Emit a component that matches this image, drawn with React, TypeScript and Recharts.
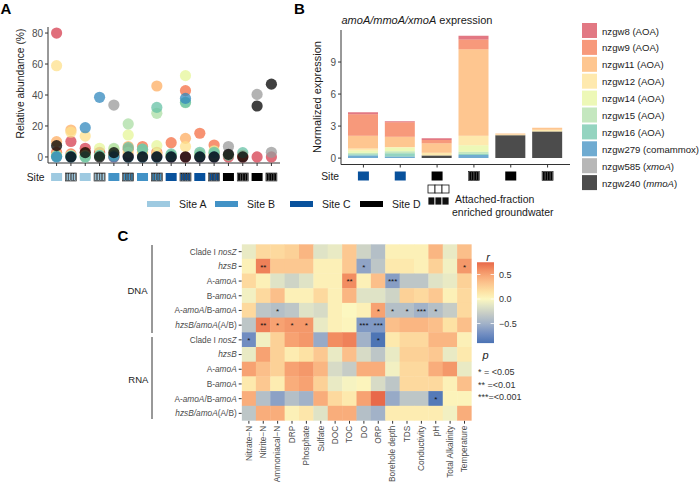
import React from 'react';
import { ScatterChart, Scatter, XAxis, YAxis, BarChart, Bar } from 'recharts';

const FONT = "'Liberation Sans', Arial, Helvetica, sans-serif";
const AXIS = '#333333';
const TICK_TXT = '#4d4d4d';
const TXT = '#1a1a1a';

// ---------- taxa (shared by A and B) ----------
const taxa = ['nzgw8', 'nzgw9', 'nzgw11', 'nzgw12', 'nzgw14', 'nzgw15', 'nzgw16', 'nzgw279', 'nzgw585', 'nzgw240'];
const taxaGroup = ['AOA', 'AOA', 'AOA', 'AOA', 'AOA', 'AOA', 'AOA', 'comammox', 'xmoA', 'mmoA'];
const taxaGroupItalic = [false, false, false, false, false, false, false, false, true, true];
const taxaColors = ['#D53E4F', '#F46D43', '#FDAE61', '#FEE08B', '#E6F598', '#ABDDA4', '#66C2A5', '#3288BD', '#999999', '#000000'];

// ---------- sites ----------
const siteNames = ['A', 'B', 'C', 'D'];
const siteColors: Record<string, string> = { A: '#9ECAE1', B: '#4292C6', C: '#08519C', D: '#000000' };

// ---------- Panel A: relative abundance ----------
const sampleIds = [1, 2, 3, 4, 5, 6, 7, 8, 9, 10, 11, 12, 13, 14, 15, 16];
const sampleSite = ['A', 'A', 'A', 'A', 'B', 'B', 'B', 'B', 'C', 'C', 'C', 'C', 'D', 'D', 'D', 'D'];
const sampleAttached = [0, 1, 0, 1, 0, 1, 0, 1, 0, 1, 0, 1, 0, 1, 0, 1];
const abundanceTicks = [0, 20, 40, 60, 80];

const abund_nzgw8 = [80, 10, 5.6, 3, 0, 1, 1, 1, 0, 0, 0, 0, 0, 0, 0, 0];
const abund_nzgw9 = [3, 2, 3, 2, 1, 5, 6.7, 3, 9.2, 42.8, 15.3, 7.7, 1, 1, null, null];
const abund_nzgw11 = [9.9, 17.4, 1, 1, 2, 6.7, 3, 45.8, 1, 12, 1, 2, null, null, null, null];
const abund_nzgw12 = [58.9, 16, 13.5, 1, 1, 3, 2, 2, 1, 6.7, 2, 1, null, null, null, null];
const abund_nzgw14 = [1, 1, 1, 5.6, 5, 14.2, 1, 7.3, 1, 52.5, 1, 4, null, null, null, null];
const abund_nzgw15 = [0.5, 0.5, 0, 1, 5.5, 21.3, 5, 28.2, 1, 35, 1, 2.4, null, null, null, null];
const abund_nzgw16 = [0.5, 0.5, 0, 1, 1, 6, 5, 32, 2, 35.3, 3, 3, 1, 2.8, null, null];
const abund_nzgw279 = [0, 0, 18.9, 38.5, 0, 0, 0, 0, 0, 37.8, 0, 0, null, null, null, null];
const abund_nzgw585 = [null, null, null, null, 33.5, null, null, null, null, null, null, null, 6.7, null, 40.4, 3];
const abund_nzgw240 = [7.3, 0, 2.8, 0, 2.8, 0, 0, 0, 0, 0, 0, 0, 1.7, 0, 32.9, 47];
const abundance = [abund_nzgw8, abund_nzgw9, abund_nzgw11, abund_nzgw12, abund_nzgw14, abund_nzgw15, abund_nzgw16, abund_nzgw279, abund_nzgw585, abund_nzgw240];

// ---------- Panel B: expression ----------
const exprSamples = ['s1', 's2', 's3', 's4', 's5', 's6'];
const exprSite = ['C', 'C', 'D', 'D', 'D', 'D'];
const exprAttached = [0, 0, 0, 1, 0, 1];
const exprTicks = [0, 3, 6, 9];

const expr_nzgw8 = [0.2, 0.1, 0.15, 0.35, 0, 0];
const expr_nzgw9 = [2.0, 1.35, 0.3, 0.9, 0, 0];
const expr_nzgw11 = [1.2, 0.95, 0.9, 8.1, 0.1, 0.2];
const expr_nzgw12 = [0.2, 0.05, 0.25, 0.9, 0.05, 0.15];
const expr_nzgw14 = [0.2, 0.35, 0, 0.6, 0, 0];
const expr_nzgw15 = [0.15, 0.2, 0, 0.2, 0, 0];
const expr_nzgw16 = [0.1, 0.3, 0, 0.1, 0, 0];
const expr_nzgw279 = [0.25, 0.15, 0, 0.3, 0, 0];
const expr_nzgw585 = [0, 0, 0, 0, 0, 0];
const expr_nzgw240 = [0, 0, 0.25, 0, 2.15, 2.5];
const expression = [expr_nzgw8, expr_nzgw9, expr_nzgw11, expr_nzgw12, expr_nzgw14, expr_nzgw15, expr_nzgw16, expr_nzgw279, expr_nzgw585, expr_nzgw240];

// ---------- Panel C: correlation heatmap ----------
const envVars = ['Nitrate−N', 'Nitrite−N', 'Ammoniacal−N', 'DRP', 'Phosphate', 'Sulfate', 'DOC', 'TOC', 'DO', 'ORP', 'Borehole depth', 'TDS', 'Conductivity', 'pH', 'Total Alkalinity', 'Temperature'];
// label parts: [text, italic]
const geneLabels: [string, boolean][][] = [
  [['Clade I ', false], ['nosZ', true]],
  [['hzsB', true]],
  [['A-', false], ['amoA', true]],
  [['B-', false], ['amoA', true]],
  [['A-', false], ['amoA', true], ['/B-', false], ['amoA', true]],
  [['hzsB/amoA', true], ['(A/B)', false]],
];
const rowGroups = ['DNA', 'RNA'];

const r_dna_nosZ = [-0.1, 0.2, 0.2, 0.25, 0.4, -0.15, -0.1, 0.3, -0.25, -0.4, 0.05, 0.05, 0.05, 0.4, -0.1, 0.35];
const r_dna_hzsB = [0.05, 0.65, 0.3, 0.3, 0.3, 0.05, 0.05, 0.3, -0.58, -0.35, 0.1, 0.1, 0.05, 0.25, -0.05, 0.55];
const r_dna_Aamo = [0.2, 0.05, -0.15, -0.25, -0.15, 0.05, 0.05, 0.6, 0.05, 0.35, -0.62, -0.35, -0.35, -0.15, -0.1, 0.25];
const r_dna_Bamo = [-0.05, 0.2, 0.35, 0.05, 0.05, 0.2, 0.05, 0.4, -0.15, -0.15, -0.25, 0.25, 0.2, 0.3, 0.05, 0.2];
const r_dna_AB = [0.2, -0.35, -0.4, -0.35, -0.15, -0.2, 0.05, 0.0, 0.05, 0.5, -0.4, -0.4, -0.5, -0.4, -0.3, 0.2];
const r_dna_ratio = [-0.35, 0.65, 0.5, 0.55, 0.55, -0.1, 0.05, 0.02, -0.65, -0.65, 0.35, 0.4, 0.4, 0.35, 0.15, 0.35];
const r_rna_nosZ = [-0.72, -0.05, 0.25, 0.5, 0.55, -0.55, 0.6, 0.65, -0.5, -0.88, 0.1, 0.2, 0.2, 0.4, 0.4, 0.05];
const r_rna_hzsB = [-0.1, 0.5, 0.25, 0.08, 0.15, 0.3, -0.1, 0.35, -0.2, -0.35, -0.1, 0.25, 0.25, 0.3, -0.1, 0.1];
const r_rna_Aamo = [0.5, 0.35, 0.25, 0.5, 0.55, 0.4, -0.2, -0.3, 0.45, 0.45, -0.05, 0.2, 0.2, 0.45, 0.55, -0.1];
const r_rna_Bamo = [0.1, 0.3, 0.08, 0.45, 0.5, 0.25, -0.1, -0.03, 0.02, -0.2, -0.35, 0.2, 0.2, 0.2, 0.05, 0.35];
const r_rna_AB = [0.45, -0.4, -0.6, -0.4, -0.5, 0.45, 0.2, 0.1, 0.5, 0.75, -0.55, -0.35, -0.35, -0.85, 0.03, 0.03];
const r_rna_ratio = [-0.35, 0.45, 0.45, 0.05, 0.12, -0.15, 0.45, 0.45, -0.4, -0.5, 0.08, 0.08, 0.08, 0.08, -0.05, 0.45];
const rMatrix = [r_dna_nosZ, r_dna_hzsB, r_dna_Aamo, r_dna_Bamo, r_dna_AB, r_dna_ratio, r_rna_nosZ, r_rna_hzsB, r_rna_Aamo, r_rna_Bamo, r_rna_AB, r_rna_ratio];

// significance marks: [row, col, label]
const sigMarks: [number, number, string][] = [
  [1, 1, '**'], [1, 8, '*'], [1, 15, '*'],
  [2, 7, '**'], [2, 10, '***'],
  [4, 2, '*'], [4, 9, '*'], [4, 10, '*'], [4, 11, '*'], [4, 12, '***'], [4, 13, '*'],
  [5, 1, '**'], [5, 2, '*'], [5, 3, '*'], [5, 4, '*'], [5, 8, '***'], [5, 9, '***'],
  [6, 0, '*'], [6, 9, '*'],
  [10, 13, '*'],
];
const colorbarTicks = [0.5, 0, -0.5];
const colorbarLabels = ['0.5', '0.0', '−0.5'];
const rLimits = [-0.9, 0.75];
const pLegend = ['* = <0.05', '** =<0.01', '***=<0.001'];

// colour scale stops [r, colour]
const rStops: [number, string][] = [
  [-0.9, '#4A72B4'], [-0.7, '#7590C2'], [-0.5, '#A2B2C8'], [-0.3, '#C6CCC6'], [-0.15, '#DFE3C6'],
  [0, '#FCF7C0'], [0.15, '#FDE2A4'], [0.3, '#FCC891'], [0.45, '#F9AD7B'], [0.6, '#F28D61'], [0.75, '#E8694A'],
];

function hexToRgb(h: string) {
  const n = parseInt(h.slice(1), 16);
  return [(n >> 16) & 255, (n >> 8) & 255, n & 255];
}
function rColor(r: number) {
  if (r <= rStops[0][0]) return rStops[0][1];
  for (let i = 1; i < rStops.length; i++) {
    if (r <= rStops[i][0]) {
      const [r0, c0] = rStops[i - 1];
      const [r1, c1] = rStops[i];
      const t = (r - r0) / (r1 - r0);
      const a = hexToRgb(c0), b = hexToRgb(c1);
      const m = a.map((v, k) => Math.round(v + (b[k] - v) * t));
      return `rgb(${m[0]},${m[1]},${m[2]})`;
    }
  }
  return rStops[rStops.length - 1][1];
}

// ---------- derived data ----------
const scatterSeries = taxa.map((name, s) => ({
  name,
  color: taxaColors[s],
  data: sampleIds
    .map((id, i) => (abundance[s][i] == null ? null : { x: id, y: abundance[s][i] as number }))
    .filter(Boolean) as { x: number; y: number }[],
}));

const barData = exprSamples.map((id, i) => {
  const row: Record<string, any> = { id };
  taxa.forEach((t, s) => { row[t] = expression[s][i]; });
  return row;
});

const heatCells: { x: number; y: number; r: number; sig: string }[] = [];
rMatrix.forEach((row, ri) => row.forEach((r, ci) => {
  const m = sigMarks.find((s) => s[0] === ri && s[1] === ci);
  heatCells.push({ x: ci + 0.5, y: ri + 0.5, r, sig: m ? m[2] : '' });
}));
const colTicks = envVars.map((_, i) => i + 0.5);
const rowTicks = rMatrix.map((_, i) => i + 0.5);

// ---------- site box ----------
function SiteBox({ cx, top, w, h, site, attached }: { cx: number; top: number; w: number; h: number; site: string; attached: number }) {
  const color = siteColors[site];
  const x0 = cx - w / 2;
  if (!attached) return <rect x={x0} y={top} width={w} height={h} fill={color} />;
  const n = 4;
  const bw = (w - 1) / n - 0.6;
  return (
    <g>
      <rect x={x0} y={top} width={w} height={h} fill="#ffffff" stroke="#111" strokeWidth={0.6} />
      {Array.from({ length: n }).map((_, i) => (
        <rect key={i} x={x0 + 0.8 + i * ((w - 1) / n)} y={top + 0.5} width={bw} height={h - 1} fill={color} stroke="#111" strokeWidth={0.5} />
      ))}
    </g>
  );
}

// ---------- Panel A ----------
const PLOT_W = 300;
function PanelA() {
  return (
    <div style={{ position: 'absolute', left: 0, top: 0 }}>
      <ScatterChart width={PLOT_W} height={190} margin={{ top: 27, right: 20, bottom: 2, left: 18 }}>
        <XAxis
          type="number" dataKey="x" domain={[0.4, 16.6]} ticks={sampleIds} interval={0} allowDataOverflow
          height={25} tickSize={3} axisLine={{ stroke: AXIS }} tickLine={{ stroke: AXIS }}
          tick={(p: any) => {
            const i = Math.round(p.payload.value) - 1;
            return <SiteBox cx={p.x} top={p.y + 5} w={11} h={8} site={sampleSite[i]} attached={sampleAttached[i]} />;
          }}
        />
        <YAxis
          type="number" dataKey="y" domain={[-3.9, 83.9]} ticks={abundanceTicks} interval={0} allowDataOverflow
          width={30} tickSize={3} axisLine={{ stroke: AXIS }} tickLine={{ stroke: AXIS }}
          tick={{ fill: TICK_TXT, fontSize: 10, fontFamily: FONT }}
        />
        {scatterSeries.map((s) => (
          <Scatter
            key={s.name} name={s.name} data={s.data} isAnimationActive={false}
            shape={(p: any) => (p.cx == null ? <g /> : <circle cx={p.cx} cy={p.cy} r={5.6} fill={s.color} fillOpacity={0.75} />)}
          />
        ))}
      </ScatterChart>
    </div>
  );
}

// ---------- Panel B ----------
function PanelB() {
  const stackOrder = [...taxa].reverse();
  return (
    <div style={{ position: 'absolute', left: 290, top: 0 }}>
      <BarChart width={300} height={200} data={barData} margin={{ top: 30, right: 20, bottom: 10.5, left: 21 }} barSize={30}>
        <XAxis
          dataKey="id" type="category" padding={{ left: 4, right: 4 }} interval={0}
          height={25} tickSize={3} axisLine={{ stroke: AXIS }} tickLine={{ stroke: AXIS }}
          tick={(p: any) => {
            const i = exprSamples.indexOf(p.payload.value);
            return <SiteBox cx={p.x} top={p.y + 2} w={11} h={9} site={exprSite[i]} attached={exprAttached[i]} />;
          }}
        />
        <YAxis
          type="number" domain={[-0.6, 12]} ticks={exprTicks} interval={0} allowDataOverflow
          width={30} tickSize={3} axisLine={{ stroke: AXIS }} tickLine={{ stroke: AXIS }}
          tick={{ fill: TICK_TXT, fontSize: 10, fontFamily: FONT }}
        />
        {stackOrder.map((t) => (
          <Bar key={t} dataKey={t} stackId="expr" fill={taxaColors[taxa.indexOf(t)]} fillOpacity={0.7} isAnimationActive={false} />
        ))}
      </BarChart>
    </div>
  );
}

// ---------- Panel C ----------
const C_W = 700, C_H = 252;
const C_M = { top: 14.3, right: 228.3, bottom: 1.3, left: 141.7 };
const C_YAXIS_W = 100, C_XAXIS_H = 60;
const CELL_W = (C_W - C_M.left - C_M.right - C_YAXIS_W) / envVars.length;
const CELL_H = (C_H - C_M.top - C_M.bottom - C_XAXIS_H) / rMatrix.length;

function PanelC() {
  return (
    <div style={{ position: 'absolute', left: 0, top: 230 }}>
      <ScatterChart width={C_W} height={C_H} margin={C_M}>
        <XAxis
          type="number" dataKey="x" domain={[0, envVars.length]} ticks={colTicks} interval={0} allowDataOverflow
          height={C_XAXIS_H} tickSize={3} axisLine={false} tickLine={{ stroke: AXIS }}
          tick={(p: any) => {
            const i = Math.round(p.payload.value - 0.5);
            return (
              <text x={p.x} y={p.y} transform={`rotate(-90 ${p.x} ${p.y})`} textAnchor="end" dy="0.33em"
                fontSize={8.3} fill={TICK_TXT} fontFamily={FONT}>{envVars[i]}</text>
            );
          }}
        />
        <YAxis
          type="number" dataKey="y" domain={[0, rMatrix.length]} reversed ticks={rowTicks} interval={0} allowDataOverflow
          width={C_YAXIS_W} tickSize={3} axisLine={false} tickLine={{ stroke: AXIS }}
          tick={(p: any) => {
            const i = Math.round(p.payload.value - 0.5);
            const parts = geneLabels[i % geneLabels.length];
            return (
              <text x={p.x} y={p.y} dy="0.35em" textAnchor="end" fontSize={8.3} fill={TICK_TXT} fontFamily={FONT}>
                {parts.map((pt, k) => (
                  <tspan key={k} fontStyle={pt[1] ? 'italic' : 'normal'}>{pt[0]}</tspan>
                ))}
              </text>
            );
          }}
        />
        <Scatter
          data={heatCells} isAnimationActive={false}
          shape={(p: any) => (
            <g>
              <rect x={p.cx - CELL_W / 2 - 0.2} y={p.cy - CELL_H / 2 - 0.2} width={CELL_W + 0.4} height={CELL_H + 0.4} fill={rColor(p.payload.r)} />
              {p.payload.sig ? (
                <text x={p.cx} y={p.cy} dy="0.4em" textAnchor="middle" fontSize={8} fill="#111" fontFamily={FONT}>{p.payload.sig}</text>
              ) : null}
            </g>
          )}
        />
      </ScatterChart>
    </div>
  );
}

// ---------- Overlay: titles and legends ----------
function Overlay() {
  const legendSiteX = [147, 215, 290, 360];
  const legendTop = 23, legendStep = 16.9;
  const cbTop = 299 - rLimits[1] * 49, cbBottom = 299 - rLimits[0] * 49;
  const rToY = (r: number) => 299 - r * 49;
  return (
    <svg width={700} height={482} style={{ position: 'absolute', left: 0, top: 0, pointerEvents: 'none' }} fontFamily={FONT}>
      <defs>
        <linearGradient id="rgrad" x1="0" y1="0" x2="0" y2="1">
          {[...rStops].reverse().map(([r, c], i) => (
            <stop key={i} offset={(rLimits[1] - r) / (rLimits[1] - rLimits[0])} stopColor={c} />
          ))}
        </linearGradient>
      </defs>
      {/* panel letters */}
      <text x={0.5} y={13.5} fontSize={15} fontWeight="bold" fill="#000">A</text>
      <text x={294} y={13.5} fontSize={15} fontWeight="bold" fill="#000">B</text>
      <text x={117.5} y={240.5} fontSize={15} fontWeight="bold" fill="#000">C</text>

      {/* Panel A texts */}
      <text x={20} y={83.5} transform="rotate(-90 20 83.5)" textAnchor="middle" dominantBaseline="central" fontSize={10.3} fill={TXT}>Relative abundance (%)</text>
      <text x={44.5} y={177} textAnchor="end" dominantBaseline="central" fontSize={10.3} fill={TXT}>Site</text>
      {siteNames.map((s, i) => (
        <g key={s}>
          <rect x={legendSiteX[i]} y={201} width={23} height={6} fill={siteColors[s]} />
          <text x={legendSiteX[i] + 32} y={204} dominantBaseline="central" fontSize={10.5} fill={TXT}>{`Site ${s}`}</text>
        </g>
      ))}
      {[0, 1, 2].map((i) => (
        <g key={i}>
          <rect x={428 + i * 7} y={185} width={7} height={8} fill="#fff" stroke="#111" strokeWidth={0.8} />
          <rect x={428 + i * 7} y={197} width={7} height={8} fill="#111" stroke="#fff" strokeWidth={0.8} />
        </g>
      ))}
      <text x={455} y={199} dominantBaseline="central" fontSize={10.5} fill={TXT}>Attached-fraction</text>
      <text x={452} y={211.7} dominantBaseline="central" fontSize={10.5} fill={TXT}>enriched groundwater</text>

      {/* Panel B texts */}
      <text x={417} y={20} textAnchor="middle" dominantBaseline="central" fontSize={11} fill={TXT}>
        <tspan fontStyle="italic">amoA/mmoA/xmoA</tspan>
        <tspan> expression</tspan>
      </text>
      <text x={316.7} y={97} transform="rotate(-90 316.7 97)" textAnchor="middle" dominantBaseline="central" fontSize={11} fill={TXT}>Normalized expression</text>
      <text x={339} y={176} textAnchor="end" dominantBaseline="central" fontSize={10.3} fill={TXT}>Site</text>
      {taxa.map((t, i) => (
        <g key={t}>
          <rect x={582} y={legendTop + i * legendStep} width={15} height={15} fill={taxaColors[i]} fillOpacity={0.7} />
          <text x={602} y={legendTop + 7.5 + i * legendStep} dominantBaseline="central" fontSize={9.6} fill={TXT}>
            <tspan>{`${t} (`}</tspan>
            <tspan fontStyle={taxaGroupItalic[i] ? 'italic' : 'normal'}>{taxaGroup[i]}</tspan>
            <tspan>)</tspan>
          </text>
        </g>
      ))}

      {/* Panel C group labels */}
      <text x={137.5} y={290.7} textAnchor="middle" dominantBaseline="central" fontSize={9.5} fill={TXT}>{rowGroups[0]}</text>
      <text x={138.3} y={379} textAnchor="middle" dominantBaseline="central" fontSize={9.5} fill={TXT}>{rowGroups[1]}</text>
      <line x1={152} x2={152} y1={245} y2={333} stroke="#333" strokeWidth={1} />
      <line x1={152} x2={152} y1={337} y2={419} stroke="#333" strokeWidth={1} />

      {/* colour bar */}
      <text x={488} y={257} textAnchor="middle" dominantBaseline="central" fontSize={11} fontStyle="italic" fill={TXT}>r</text>
      <rect x={477} y={cbTop} width={17} height={cbBottom - cbTop} fill="url(#rgrad)" />
      {colorbarTicks.map((r, i) => (
        <g key={i}>
          <line x1={477} x2={480.4} y1={rToY(r)} y2={rToY(r)} stroke="#fff" strokeWidth={0.8} />
          <line x1={490.6} x2={494} y1={rToY(r)} y2={rToY(r)} stroke="#fff" strokeWidth={0.8} />
          <text x={499} y={rToY(r)} dominantBaseline="central" fontSize={9} fill="#333">{colorbarLabels[i]}</text>
        </g>
      ))}
      <text x={485.5} y={355} textAnchor="middle" dominantBaseline="central" fontSize={11} fontStyle="italic" fill={TXT}>p</text>
      {pLegend.map((s, i) => (
        <text key={i} x={478} y={372.3 + i * 12.5} dominantBaseline="central" fontSize={9} fill="#333" style={{ whiteSpace: 'pre' }}>{s}</text>
      ))}
    </svg>
  );
}

export default function App() {
  return (
    <div style={{ position: 'absolute', left: 0, top: 0, width: 700, height: 482, background: '#fff', fontFamily: FONT, overflow: 'hidden' }}>
      <PanelA />
      <PanelB />
      <PanelC />
      <Overlay />
    </div>
  );
}
